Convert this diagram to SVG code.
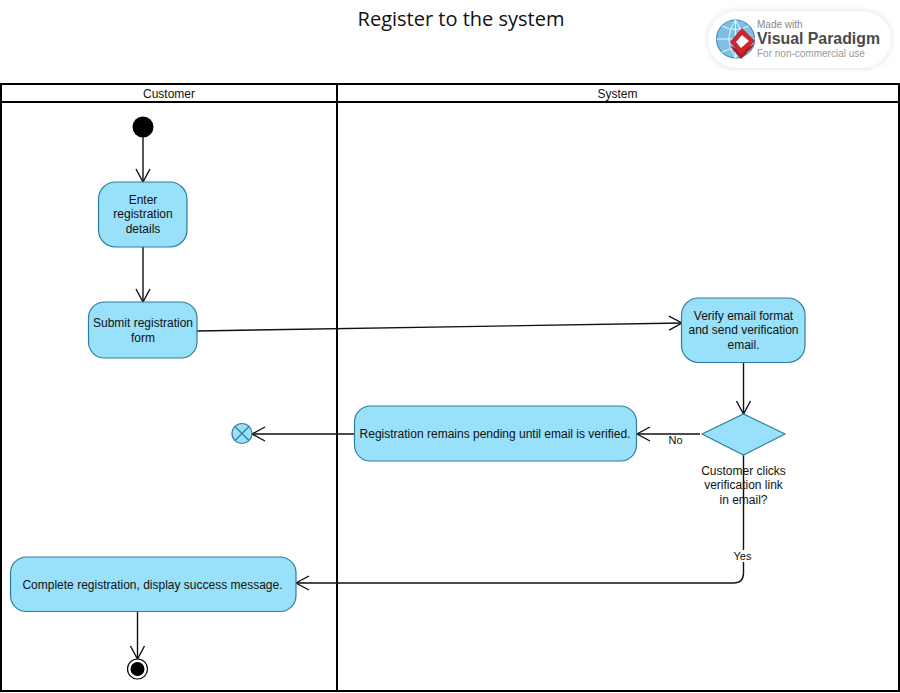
<svg xmlns="http://www.w3.org/2000/svg" width="900" height="693" viewBox="0 0 900 693">
<style>
text{font-family:"Liberation Sans",Arial,sans-serif;font-size:12px;fill:#111;text-anchor:middle}
.lane{fill:none;stroke:#000;stroke-width:2}
.act{fill:#99e0fa;stroke:#2f7f9c;stroke-width:1.2}
.con{fill:none;stroke:#111;stroke-width:1.4}
.head{fill:none;stroke:#111;stroke-width:1.4}
</style>
<defs>
<marker id="arr" markerUnits="userSpaceOnUse" markerWidth="18" markerHeight="18" refX="14" refY="9" orient="auto">
<path class="head" d="M1 2L14 9L1 16"/>
</marker>
<filter id="soft" x="-10%" y="-20%" width="120%" height="140%"><feGaussianBlur stdDeviation="2.500"/></filter>
</defs>
<rect width="900" height="693" fill="#fff"/>
<text x="461" y="26" style="font-size:20px;font-family:'Open Sans','Noto Sans',sans-serif">Register to the system</text>
<g id="logo">
<rect x="707" y="10" width="185" height="59" rx="29" fill="#e6e6e6" filter="url(#soft)"/>
<rect x="708" y="11" width="183" height="57" rx="28" fill="#fff"/>
<circle cx="735.500" cy="39" r="19" fill="#7cc0e4" stroke="#4a90b8" stroke-width="1.200"/>
<path d="M716.500 39H754.500M735.500 20V58M722 26Q735.500 33 749 26M722 52Q735.500 45 749 52M735.500 20Q722 39 735.500 58M735.500 20Q749 39 735.500 58" fill="none" stroke="#eaf6fc" stroke-width="1"/>
<path d="M730 46L741 59L755 44L741 50Z" fill="#a81c26"/>
<path d="M742 28L755 41L741 55L730 42Z" fill="#d0232e"/>
<path d="M742 35L749 41L741 48L736 42Z" fill="#fff"/>
<text x="757" y="28" style="font-size:10px;text-anchor:start;fill:#888">Made with</text>
<text x="757" y="44" textLength="123" lengthAdjust="spacingAndGlyphs" style="font-size:16px;font-weight:bold;text-anchor:start;fill:#4a4a4a">Visual Paradigm</text>
<text x="757" y="57" style="font-size:10px;text-anchor:start;fill:#999">For non-commercial use</text>
</g>
<g id="swimlane">
<rect class="lane" x="1" y="84" width="898" height="607"/>
<path class="lane" d="M1 102H899M337 84V691"/>
<text x="169" y="98">Customer</text>
<text x="617.500" y="98">System</text>
</g>
<g id="connectors">
<path class="con" marker-end="url(#arr)" d="M143 137V182"/>
<path class="con" marker-end="url(#arr)" d="M143 247V302"/>
<path class="con" marker-end="url(#arr)" d="M197 331L682 323"/>
<path class="con" marker-end="url(#arr)" d="M743.500 362V414"/>
<path class="con" marker-end="url(#arr)" d="M700 434H637"/>
<path class="con" marker-end="url(#arr)" d="M355 434H252"/>
<path class="con" marker-end="url(#arr)" d="M743.500 455V573Q743.500 583 733.500 583H296"/>
<path class="con" marker-end="url(#arr)" d="M137.500 611V659"/>
</g>
<g id="start"><circle cx="143" cy="127" r="10.500" fill="#000"/></g>
<g id="enter-details">
<rect class="act" x="98.500" y="182" width="88.500" height="65" rx="17"/>
<text x="143" y="204">Enter</text><text x="143" y="218">registration</text><text x="143" y="233">details</text>
</g>
<g id="submit-form">
<rect class="act" x="88.500" y="302" width="108.500" height="56" rx="16"/>
<text x="143" y="327">Submit registration</text><text x="143" y="342">form</text>
</g>
<g id="verify-email">
<rect class="act" x="681.500" y="298" width="123.500" height="64.500" rx="17"/>
<text x="743.500" y="320">Verify email format</text><text x="743.500" y="334">and send verification</text><text x="743.500" y="349">email.</text>
</g>
<g id="decision">
<path class="act" d="M702 434L743.500 414L785 434L743.500 455Z"/>
<text x="743.500" y="475">Customer clicks</text><text x="743.500" y="489">verification link</text><text x="743.500" y="504">in email?</text>
</g>
<g id="pending">
<rect class="act" x="354.500" y="406" width="282" height="55" rx="16"/>
<text x="495" y="438">Registration remains pending until email is verified.</text>
</g>
<g id="flow-final">
<circle class="act" cx="242" cy="433.500" r="10"/>
<path d="M235 426.500L249 440.500M249 426.500L235 440.500" fill="none" stroke="#2f7f9c" stroke-width="1.200"/>
</g>
<g id="complete">
<rect class="act" x="10.500" y="557" width="285.500" height="54.500" rx="16"/>
<text x="152.500" y="589">Complete registration, display success message.</text>
</g>
<g id="end">
<circle cx="137.500" cy="669" r="10" fill="#fff" stroke="#000" stroke-width="1.200"/>
<circle cx="137.500" cy="669" r="7" fill="#000"/>
</g>
<g id="labels">
<rect x="668" y="435" width="16" height="11" fill="#fff"/>
<text x="675.500" y="444" style="font-size:11px">No</text>
<rect x="733" y="550" width="20" height="12" fill="#fff"/>
<text x="742.500" y="560" style="font-size:11px">Yes</text>
</g>
</svg>
